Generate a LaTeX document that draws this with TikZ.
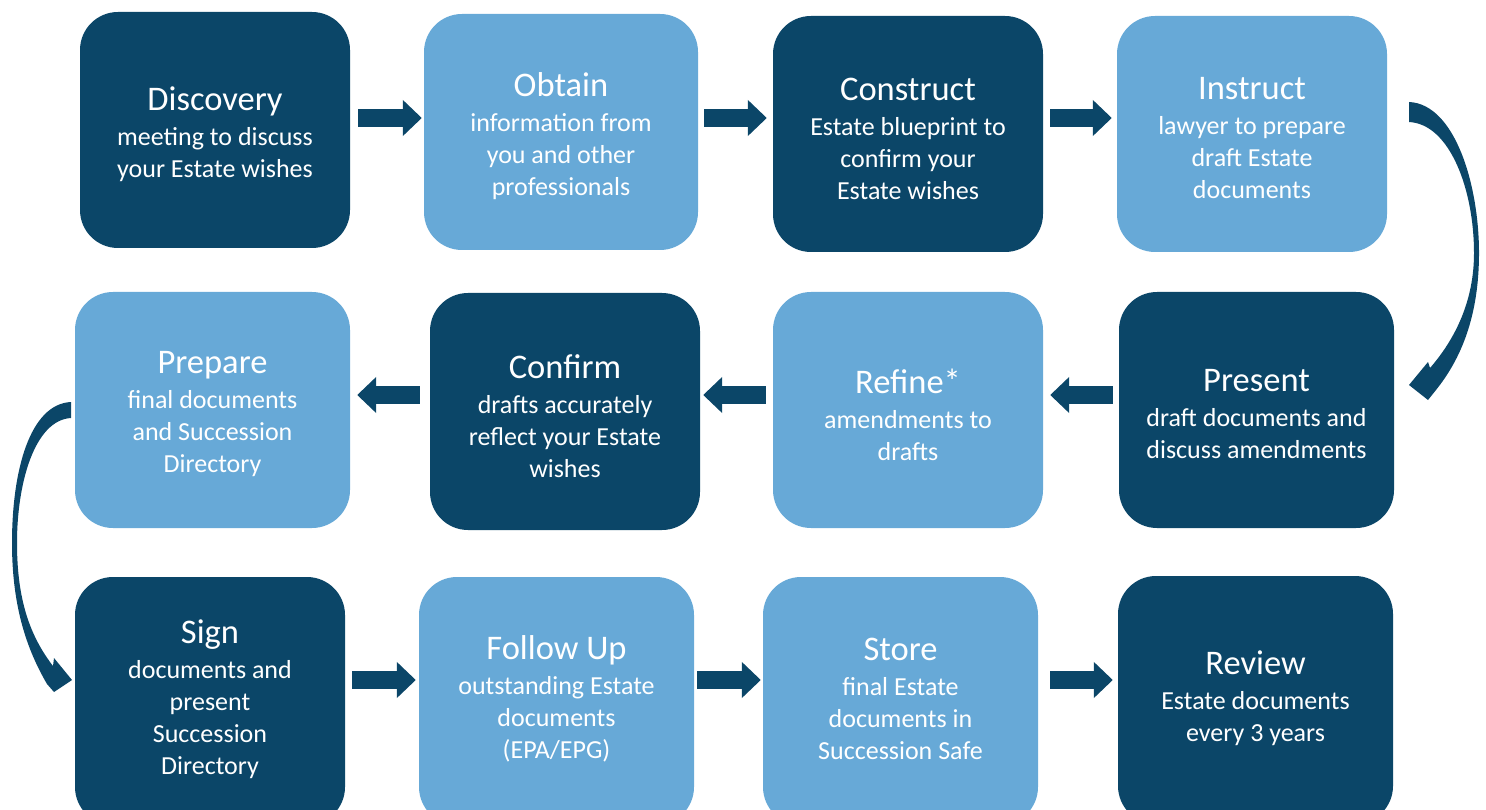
\documentclass[tikz,border=0pt]{standalone}
\usepackage{fontspec}
\setmainfont{Carlito}
\usetikzlibrary{arrows.meta,calc}
\definecolor{dk}{HTML}{0B4668}
\definecolor{lt}{HTML}{67A9D7}
\newcommand{\hd}[1]{{\fontsize{34.5}{38}\selectfont #1}\\[3pt]}
\begin{document}
\begin{tikzpicture}[x=1pt,y=-1pt,
  box/.style={rounded corners=38pt, inner sep=0pt},
  dbox/.style={box, fill=dk},
  lbox/.style={box, fill=lt},
  txt/.style={inner sep=0pt, text=white, align=center,
    font=\fontsize{26}{32}\selectfont},
  blk/.style={draw=dk, line width=18pt, -{Triangle[width=35pt,length=19pt]}},
  curv/.style={fill=dk}]
\useasboundingbox (0,0) rectangle (1486,810);
\clip (0,0) rectangle (1486,810);
% row 1
\node[dbox, minimum width=270pt, minimum height=236pt] (disc) at (215,130) {};
\node[lbox, minimum width=274pt, minimum height=236pt] (obt) at (561,132) {};
\node[dbox, minimum width=270pt, minimum height=236pt] (cons) at (908,134) {};
\node[lbox, minimum width=270pt, minimum height=236pt] (inst) at (1252,134) {};
\node[txt] (disc-t) at ($(disc.center)+(0,4.5)$) {\hd{Discovery}meeting to discuss\\your Estate wishes};
\node[txt] (obt-t) at ($(obt.center)+(0,4.5)$) {\hd{Obtain}information from\\you and other\\professionals};
\node[txt] (cons-t) at ($(cons.center)+(0,4.5)$) {\hd{Construct}Estate blueprint to\\confirm your\\Estate wishes};
\node[txt] (inst-t) at ($(inst.center)+(0,4.5)$) {\hd{Instruct}lawyer to prepare\\draft Estate\\documents};
% row 2
\node[lbox, minimum width=275pt, minimum height=236pt] (prep) at (212.5,410) {};
\node[dbox, minimum width=270pt, minimum height=237pt] (conf) at (565,411.5) {};
\node[lbox, minimum width=270pt, minimum height=236pt] (ref) at (908,410) {};
\node[dbox, minimum width=275pt, minimum height=236pt] (pres) at (1256.5,410) {};
\node[txt] (prep-t) at ($(prep.center)+(0,4.5)$) {\hd{Prepare}final documents\\and Succession\\Directory};
\node[txt] (conf-t) at ($(conf.center)+(0,4.5)$) {\hd{Confirm}drafts accurately\\reflect your Estate\\wishes};
\node[txt] (ref-t) at ($(ref.center)+(0,4.5)$) {\hd{Refine*}amendments to\\drafts};
\node[txt] (pres-t) at ($(pres.center)+(0,4)$) {\hd{Present}draft documents and\\discuss amendments};
% row 3
\node[dbox, minimum width=270pt, minimum height=248pt] (sign) at (210,701) {};
\node[lbox, minimum width=275pt, minimum height=248pt] (fol) at (556.5,701) {};
\node[lbox, minimum width=275pt, minimum height=248pt] (sto) at (900.5,701) {};
\node[dbox, minimum width=275pt, minimum height=248pt] (rev) at (1255.5,700) {};
\node[txt] (sign-t) at ($(sign.center)+(0,-1.5)$) {\hd{Sign}documents and\\present\\Succession\\Directory};
\node[txt] (fol-t) at ($(fol.center)+(0,-2)$) {\hd{Follow Up}outstanding Estate\\documents\\(EPA/EPG)};
\node[txt] (sto-t) at ($(sto.center)+(0,-2)$) {\hd{Store}final Estate\\documents in\\Succession Safe};
\node[txt] (rev-t) at ($(rev.center)+(0,-2)$) {\hd{Review}Estate documents\\every 3 years};
% arrow rows
\coordinate (r1) at (0,118);
\coordinate (r2) at (0,395);
\coordinate (r3) at (0,680);
\draw[blk] ($(disc.east|-r1)+(8,0)$) -- ($(obt.west|-r1)+(-2,0)$);
\draw[blk] ($(obt.east|-r1)+(6,0)$) -- ($(cons.west|-r1)+(-6,0)$);
\draw[blk] ($(cons.east|-r1)+(7,0)$) -- ($(inst.west|-r1)+(-5,0)$);
\draw[blk] ($(pres.west|-r2)+(-6,0)$) -- ($(ref.east|-r2)+(7,0)$);
\draw[blk] ($(ref.west|-r2)+(-7,0)$) -- ($(conf.east|-r2)+(3,0)$);
\draw[blk] ($(conf.west|-r2)+(-10,0)$) -- ($(prep.east|-r2)+(7,0)$);
\draw[blk] ($(sign.east|-r3)+(7,0)$) -- ($(fol.west|-r3)+(-3,0)$);
\draw[blk] ($(fol.east|-r3)+(3,0)$) -- ($(sto.west|-r3)+(-2,0)$);
\draw[blk] ($(sto.east|-r3)+(12,0)$) -- ($(rev.west|-r3)+(-5,0)$);
% curved arrows
\fill[curv] (1409,102) .. controls (1455,104) and (1479,185) .. (1479,253)
  .. controls (1479,318) and (1460,360) .. (1436,390) -- (1428,400) -- (1409,385) -- (1428,362) -- (1430,368)
  .. controls (1456,338) and (1474,300) .. (1474,253)
  .. controls (1474,190) and (1450,124) .. (1409,122) -- cycle;
\fill[curv] (71,402) .. controls (30,404) and (12,470) .. (12,543)
  .. controls (12,605) and (26,648) .. (47,684) -- (54,692) -- (72,680) -- (54,658) -- (53,666)
  .. controls (30,636) and (17,600) .. (17,543)
  .. controls (17,482) and (35,420) .. (71,418) -- cycle;
\end{tikzpicture}
\end{document}
